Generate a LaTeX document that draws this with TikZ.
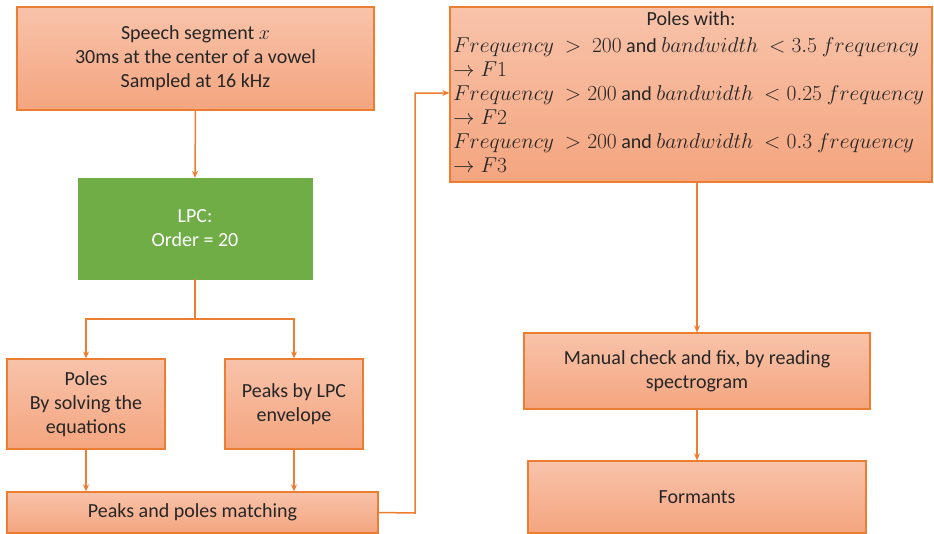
\documentclass[tikz,border=0pt]{standalone}
\usepackage{fontspec}
\usepackage{fix-cm}
\setmainfont{Carlito}
\usetikzlibrary{arrows.meta}
\definecolor{boxline}{HTML}{ED7D31}
\definecolor{boxtop}{HTML}{F8C3AA}
\definecolor{boxbot}{HTML}{F4A57F}
\definecolor{lpcgreen}{HTML}{70AD47}
\definecolor{txt}{HTML}{262626}
\tikzset{
  stagebox/.style={draw=boxline, line width=1.2pt, top color=boxtop, bottom color=boxbot,
    align=center, text=txt, inner sep=2pt,
    font=\fontsize{20}{24}\selectfont},
  greenbox/.style={fill=lpcgreen, draw=lpcgreen, align=center, text=white,
    font=\fontsize{20}{24}\selectfont},
  link/.style={draw=boxline, line width=1.5pt, -{Stealth[length=7pt,width=6pt]}},
}
\newcommand{\andword}{{\fontsize{20}{24}\selectfont\ and\ }}
\begin{document}
\begin{tikzpicture}[x=1pt, y=-1pt]
  \useasboundingbox (0,0) rectangle (934,533);

  % processing stages
  \node[stagebox, minimum width=357pt, minimum height=103pt] (seg) at (195.5,58.5)
    {Speech segment $x$\\30ms at the center of a vowel\\Sampled at 16 kHz};
  \node[greenbox, minimum width=234pt, minimum height=101pt] (lpc) at (195,228.5)
    {LPC:\\Order = 20};
  \node[stagebox, minimum width=158pt, minimum height=90pt] (poles) at (86,404)
    {Poles\\By solving the\\equations};
  \node[stagebox, minimum width=138pt, minimum height=90pt] (peaks) at (294,404)
    {Peaks by LPC\\envelope};
  \node[stagebox, minimum width=371pt, minimum height=41pt] (match) at (192.5,512.5)
    {Peaks and poles matching};
  \node[stagebox, minimum width=482pt, minimum height=175pt] (sel) at (691,94.5) {};
  \node[stagebox, minimum width=346pt, minimum height=76pt] (check) at (697,371)
    {Manual check and fix, by reading\\spectrogram};
  \node[stagebox, minimum width=338pt, minimum height=72pt] (form) at (697,497)
    {Formants};

  % selection rules inside the pole box
  \node[anchor=north, text=txt, font=\fontsize{20}{24}\selectfont] (selhead)
    at ([yshift=-2pt]sel.north) {Poles with:};
  \node[anchor=north west, align=left, text=txt, inner sep=0pt,
        font=\fontsize{21.5}{24}\selectfont] (rules) at (453,37)
    {$Frequency\ >\ 200$\andword$bandwidth\ <3.5\ frequency$\\
     $\rightarrow F1$\\
     $Frequency\ >200$\andword$bandwidth\ <0.25\ frequency$\\
     $\rightarrow F2$\\
     $Frequency\ >200$\andword$bandwidth\ <0.3\ frequency$\\
     $\rightarrow F3$};

  % connectors
  \coordinate (split) at (195,319);
  \coordinate (turn) at (415,513);
  \draw[link] (seg.south) -- (lpc.north);
  \draw[draw=boxline, line width=1.5pt] (lpc.south) -- (split);
  \draw[link] (split) -| (poles.north);
  \draw[link] (split) -| (peaks.north);
  \draw[link] (poles.south) -- (poles.south |- match.north);
  \draw[link] (peaks.south) -- (peaks.south |- match.north);
  \draw[link] (match.east) -- (turn) |- (sel.west |- 0,93);
  \draw[link] (sel.south -| check.north) -- (check.north);
  \draw[link] (check.south) -- (form.north);
\end{tikzpicture}
\end{document}
